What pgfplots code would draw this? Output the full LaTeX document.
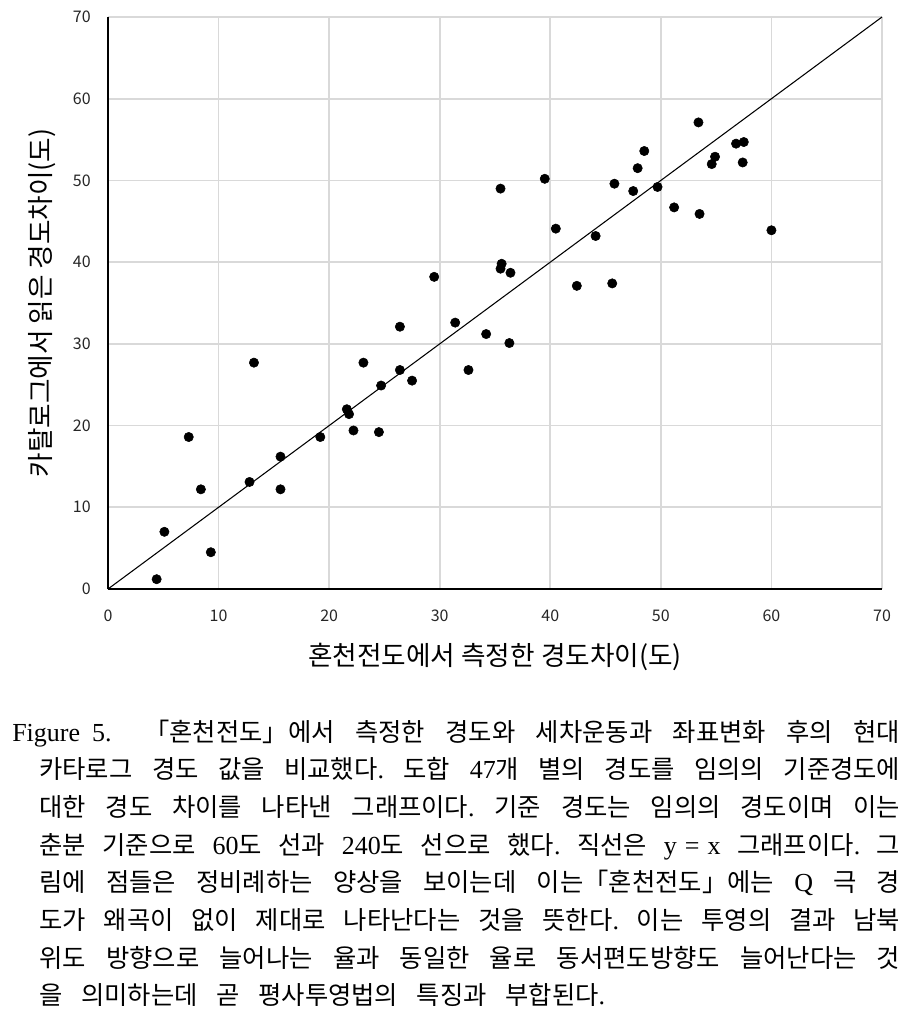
\documentclass[border=0pt]{standalone}
\usepackage{fontspec}
\usepackage{pgfplots}
\pgfplotsset{compat=1.18}
\setmainfont{Liberation Serif}
\newfontfamily\kr{Noto Sans CJK KR}
\newcommand\T[1]{{\rmfamily\fontsize{19.5pt}{21pt}\selectfont #1}}
\newcommand\capfont{\kr\fontsize{19pt}{21pt}\selectfont\frenchspacing\spaceskip 14pt plus 1fil minus 10pt\relax}
\begin{document}
\begin{tikzpicture}
\path[use as bounding box] (0,0) rectangle (691.5pt,-759.75pt);
\begin{axis}[
  at={(81pt,-441.75pt)}, anchor=south west,
  scale only axis, width=580.5pt, height=429pt,
  xmin=0, xmax=70, ymin=0, ymax=70,
  xtick={0,10,...,70}, ytick={0,10,...,70},
  axis lines=left, axis line style={-, black, line width=1.5pt},
  grid=major, major grid style={draw=black!15, line width=1.2pt},
  major tick length=0pt,
  clip=false,
  /pgf/number format/assume math mode=true,
  tick label style={font=\kr\fontsize{12pt}{14pt}\selectfont, text=black!85},
  xticklabel style={anchor=north, inner sep=0pt, yshift=-15.75pt},
  yticklabel style={anchor=east, inner sep=0pt, xshift=-12.75pt},
  xlabel={혼천전도에서 측정한 경도차이(도)},
  ylabel={카탈로그에서 읽은 경도차이(도)},
  label style={font=\kr\fontsize{20pt}{22pt}\selectfont, text=black},
  xlabel style={at={(axis description cs:0.5,0)}, anchor=center, yshift=-51pt},
  ylabel style={at={(axis description cs:-0.08527,0.5)}, anchor=center, rotate=0},
]
\addplot[black, line width=0.8pt] coordinates {(0,0) (70,70)};
\addplot[only marks, mark=*, mark size=3.5pt, black] coordinates {
(4.4,1.2) (5.1,7.0) (7.3,18.6) (8.4,12.2) (9.3,4.5) (12.8,13.1) (13.2,27.7)
(15.6,16.2) (15.6,12.2) (19.2,18.6) (21.6,22.0) (21.8,21.4) (22.2,19.4)
(23.1,27.7) (24.5,19.2) (24.7,24.9) (26.4,32.1) (26.4,26.8) (27.5,25.5)
(29.5,38.2) (31.4,32.6) (32.6,26.8) (34.2,31.2) (35.5,49.0) (35.6,39.8)
(35.5,39.2) (36.3,30.1) (36.4,38.7) (39.5,50.2) (40.5,44.1) (42.4,37.1)
(44.1,43.2) (45.6,37.4) (45.8,49.6) (47.5,48.7) (47.9,51.5) (48.5,53.6)
(49.7,49.2) (51.2,46.7) (53.4,57.1) (53.5,45.9) (54.6,52.0) (54.9,52.9)
(56.8,54.5) (57.5,54.7) (57.4,52.2) (60.0,43.9)
};
\end{axis}
\begin{scope}[every node/.style={anchor=base west, inner sep=0pt, font=\capfont}]
\node at (9pt,-555.75pt) {\T{Figure\hspace{9pt}5.}};
\node at (108pt,-555.75pt) {\makebox[567pt][s]{「혼천전도」에서 측정한 경도와 세차운동과 좌표변화 후의 현대}};
\node at (29.25pt,-584pt) {\makebox[645.75pt][s]{카타로그 경도 값을 비교했다\T{.} 도합 \T{47}개 별의 경도를 임의의 기준경도에}};
\node at (29.25pt,-612.25pt) {\makebox[645.75pt][s]{대한 경도 차이를 나타낸 그래프이다\T{.} 기준 경도는 임의의 경도이며 이는}};
\node at (29.25pt,-640.5pt) {\makebox[645.75pt][s]{춘분 기준으로 \T{60}도 선과 \T{240}도 선으로 했다\T{.} 직선은 \T{y\hspace{6pt}=\hspace{6pt}x} 그래프이다\T{.} 그}};
\node at (29.25pt,-668.75pt) {\makebox[645.75pt][s]{림에 점들은 정비례하는 양상을 보이는데 이는「혼천전도」에는 \T{Q} 극 경}};
\node at (29.25pt,-697pt) {\makebox[645.75pt][s]{도가 왜곡이 없이 제대로 나타난다는 것을 뜻한다\T{.} 이는 투영의 결과 남북}};
\node at (29.25pt,-725.25pt) {\makebox[645.75pt][s]{위도 방향으로 늘어나는 율과 동일한 율로 동서편도방향도 늘어난다는 것}};
\node at (29.25pt,-753.5pt) {을 의미하는데 곧 평사투영법의 특징과 부합된다\T{.}};
\end{scope}
\end{tikzpicture}
\end{document}
